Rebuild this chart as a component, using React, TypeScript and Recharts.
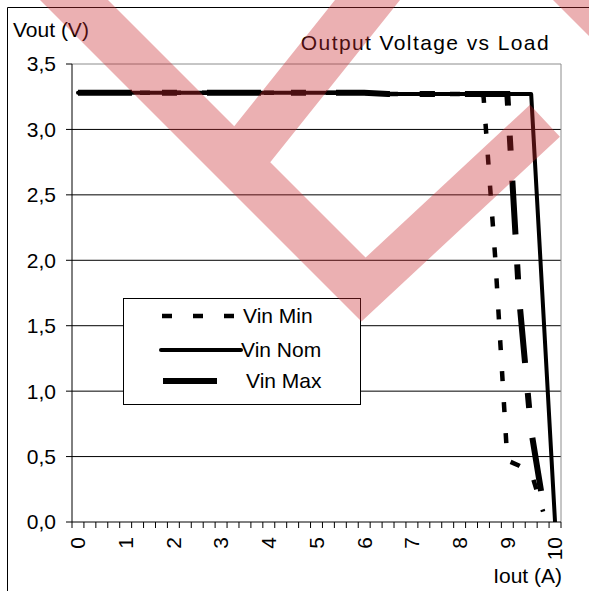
import React from "react";
import {
  LineChart,
  Line,
  XAxis,
  YAxis,
  CartesianGrid,
  ReferenceLine,
  Legend,
} from "recharts";

// values (Iout in A, Vout in V)
const minIout = [0, 1, 2, 3, 4, 5, 6, 6.5, 7, 8, 8.5, 8.75, 9, 9.25, 9.5, 9.75];
const minVout = [3.28, 3.28, 3.28, 3.28, 3.28, 3.28, 3.28, 3.27, 3.27, 3.27, 3.26, 2.0, 0.47, 0.43, 0.38, 0.08];

const nomIout = [0, 1, 2, 3, 4, 5, 6, 6.5, 7, 8, 9, 9.5, 10];
const nomVout = [3.28, 3.28, 3.28, 3.28, 3.28, 3.28, 3.28, 3.27, 3.27, 3.27, 3.27, 3.27, 0];

const maxIout = [0, 1, 2, 3, 4, 5, 6, 6.5, 7, 8, 9, 9.25, 9.5, 9.75];
const maxVout = [3.28, 3.28, 3.28, 3.28, 3.28, 3.28, 3.28, 3.27, 3.27, 3.27, 3.27, 1.7, 0.7, 0.14];

const xLabels = [0, 1, 2, 3, 4, 5, 6, 7, 8, 9, 10];
const yTicks = [0, 0.5, 1, 1.5, 2, 2.5, 3, 3.5];
const gridValues = [0.5, 1, 1.5, 2, 2.5, 3];

const seriesNames = ["Vin Min", "Vin Nom", "Vin Max"];

// category axis: 41 points 0..10 step 0.25, ticks between categories
const xDomain = [-0.125, 10.125];
const minorTicks = Array.from({ length: 42 }, (_, k) => -0.125 + 0.25 * k);
const xTicks = [...minorTicks, ...xLabels].sort((a, b) => a - b);

const toRows = (xs: number[], ys: number[]) => xs.map((i, k) => ({ i, v: ys[k] }));

const minData = toRows(minIout, minVout);
const nomData = toRows(nomIout, nomVout);
const maxData = toRows(maxIout, maxVout);

const FONT = '"Liberation Sans", Arial, sans-serif';
const FS = 21;

const styles: Record<string, any> = {
  "Vin Min": { width: 4.5, dash: "10 21", cap: "butt", x1: 38, x2: 111, tx: 119, y: 17 },
  "Vin Nom": { width: 4, dash: undefined, cap: "round", x1: 37, x2: 117, tx: 117, y: 51 },
  "Vin Max": { width: 6, dash: "54 30 15 30", cap: "butt", x1: 39, x2: 94, tx: 122, y: 82 },
};

const XTick = (props: any) => {
  const { x, y, payload } = props;
  const v = payload.value;
  if (!Number.isInteger(v)) {
    return <line x1={x} x2={x} y1={y} y2={y + 6} stroke="#000" />;
  }
  const ty = y + 15;
  return (
    <text
      x={x}
      y={ty}
      transform={`rotate(-90, ${x}, ${ty})`}
      textAnchor="end"
      dy="0.35em"
      fontSize={FS}
      fill="#000"
    >
      {v}
    </text>
  );
};

const LegendBox = (props: any) => {
  const payload = props.payload || [];
  return (
    <div style={{ width: 236, height: 105, border: "1px solid #000", background: "#fff" }}>
      <svg width={236} height={105} style={{ display: "block" }}>
        {payload.map((p: any) => {
          const s = styles[p.value];
          if (!s) return null;
          return (
            <g key={p.value}>
              <line
                x1={s.x1}
                x2={s.x2}
                y1={s.y}
                y2={s.y}
                stroke="#000"
                strokeWidth={s.width}
                strokeDasharray={s.dash}
                strokeLinecap={s.cap}
              />
              <text x={s.tx} y={s.y} dy="0.35em" fontSize={FS} fill="#000" fontFamily={FONT}>
                {p.value}
              </text>
            </g>
          );
        })}
      </svg>
    </div>
  );
};

export default function App() {
  const series = [minData, nomData, maxData];
  return (
    <div
      style={{
        position: "absolute",
        left: 0,
        top: 0,
        width: 589,
        height: 591,
        overflow: "hidden",
        background: "#fff",
        fontFamily: FONT,
      }}
    >
      <LineChart
        width={589}
        height={591}
        margin={{ top: 64, right: 28, bottom: 0, left: 12 }}
      >
        <CartesianGrid
          horizontal
          vertical={false}
          horizontalValues={gridValues}
          stroke="#000"
          strokeWidth={1}
        />
        <XAxis
          dataKey="i"
          type="number"
          domain={xDomain}
          ticks={xTicks}
          interval={0}
          height={69}
          tickSize={0}
          tickMargin={0}
          tickLine={false}
          axisLine={{ stroke: "#000" }}
          tick={<XTick />}
          allowDataOverflow
        />
        <YAxis
          type="number"
          domain={[0, 3.5]}
          ticks={yTicks}
          interval={0}
          width={60}
          tickSize={6}
          tickMargin={10}
          axisLine={{ stroke: "#000" }}
          tickLine={{ stroke: "#000" }}
          tick={{ fill: "#000", fontSize: FS }}
          tickFormatter={(v: number) => v.toFixed(1).replace(".", ",")}
          allowDataOverflow
        />
        <ReferenceLine y={3.5} stroke="#8c8c8c" />
        <ReferenceLine x={10.125} stroke="#8c8c8c" />
        {seriesNames.map((name, k) => {
          const s = styles[name];
          return (
            <Line
              key={name}
              name={name}
              data={series[k]}
              dataKey="v"
              type="linear"
              stroke="#000"
              strokeWidth={s.width}
              strokeDasharray={s.dash}
              strokeLinecap={s.cap}
              strokeLinejoin={s.cap === "round" ? "round" : "miter"}
              dot={false}
              activeDot={false}
              isAnimationActive={false}
            />
          );
        })}
        <Legend
          layout="vertical"
          align="center"
          verticalAlign="middle"
          content={<LegendBox />}
          wrapperStyle={{ left: 123, top: 298, width: 238, height: 107 }}
        />
      </LineChart>
      <svg
        width={589}
        height={591}
        style={{ position: "absolute", left: 0, top: 0, pointerEvents: "none" }}
      >
        <path d="M7.5 591 V7.5 H589" fill="none" stroke="#000" strokeWidth={1} />
        <text x={13} y={37} fontSize={FS} fill="#000" fontFamily={FONT}>
          Vout (V)
        </text>
        <text
          x={550}
          y={50}
          fontSize={FS}
          letterSpacing={1.4}
          fill="#000"
          textAnchor="end"
          fontFamily={FONT}
        >
          Output Voltage vs Load
        </text>
        <text x={562} y={583} fontSize={FS} fill="#000" textAnchor="end" fontFamily={FONT}>
          Iout (A)
        </text>
        {/* watermark */}
        <path
          d="M40 0 L361.5 321.5 L559.9 136.8 L530 104.7 L365.6 257.6 L108 0 Z
             M335 0 L204 164 L240 200 L400 0 Z
             M553 0 L589 36 L589 0 Z"
          fill="rgb(200,40,45)"
          fillOpacity={0.37}
          fillRule="nonzero"
        />
      </svg>
    </div>
  );
}
